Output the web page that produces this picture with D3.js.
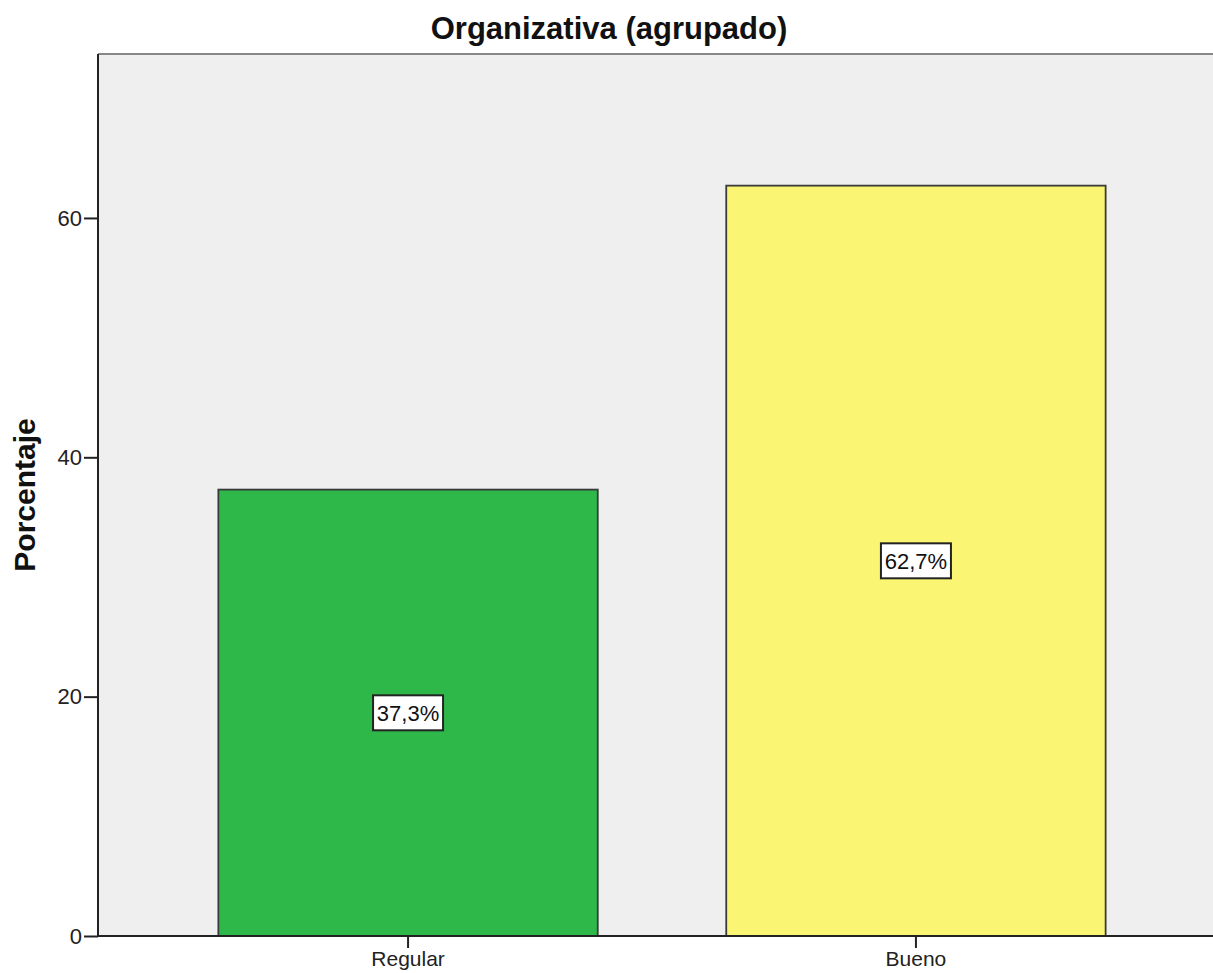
<!DOCTYPE html>
<html><head><meta charset="utf-8">
<script src="https://cdn.jsdelivr.net/npm/d3@7"></script>
<style>body{margin:0;background:#fff}svg{display:block}</style>
</head><body>
<script>
const categories = ["Regular", "Bueno"];
const values = [37.3, 62.7];
const labels = ["37,3%", "62,7%"];
const colors = ["#2fb84a", "#faf673"];
const yTicks = [0, 20, 40, 60];

(function () {
const W = 1213, H = 973;
const mLeft = 98, mRight = 1226, mTop = 54, mBottom = 936;
const svg = d3.select("body").append("svg").attr("width", W).attr("height", H);

const x = d3.scaleBand().domain(categories).range([mLeft, mRight]).paddingInner(0.253).paddingOuter(0.237);
const y = d3.scaleLinear().domain([0, 73.7]).range([mBottom, mTop]);

svg.append("rect").attr("x", mLeft).attr("y", mTop).attr("width", mRight - mLeft).attr("height", mBottom - mTop).attr("fill", "#efefef");
svg.append("line").attr("x1", mLeft).attr("x2", W).attr("y1", mTop).attr("y2", mTop).attr("stroke", "#888").attr("stroke-width", 2);

svg.selectAll("rect.bar").data(values).enter().append("rect").attr("class", "bar")
  .attr("x", (d, i) => x(categories[i])).attr("width", x.bandwidth())
  .attr("y", d => y(d)).attr("height", d => y(0) - y(d))
  .attr("fill", (d, i) => colors[i]).attr("stroke", "#3a3a3a").attr("stroke-width", 1.8);

const font = "Arial, 'Liberation Sans', sans-serif";
const yAxis = svg.append("g").attr("transform", `translate(${mLeft},0)`)
  .call(d3.axisLeft(y).tickValues(yTicks).tickSize(14).tickPadding(2).tickFormat(d3.format("d")));
yAxis.select(".domain").remove();
yAxis.selectAll("line").attr("stroke", "#222").attr("stroke-width", 2);
yAxis.selectAll("text").attr("font-family", font).attr("font-size", 22).attr("fill", "#222");
svg.append("line").attr("x1", mLeft).attr("x2", mLeft).attr("y1", mTop).attr("y2", mBottom + 1).attr("stroke", "#222").attr("stroke-width", 2);

const xAxis = svg.append("g").attr("transform", `translate(0,${mBottom})`)
  .call(d3.axisBottom(x).tickSize(12).tickPadding(3));
xAxis.select(".domain").remove();
xAxis.selectAll("line").attr("stroke", "#222").attr("stroke-width", 2);
xAxis.selectAll("text").attr("font-family", font).attr("font-size", 21).attr("fill", "#222");
svg.append("line").attr("x1", mLeft - 1).attr("x2", W).attr("y1", mBottom).attr("y2", mBottom).attr("stroke", "#222").attr("stroke-width", 2);

const lg = svg.selectAll("g.lab").data(values).enter().append("g").attr("class", "lab")
  .attr("transform", (d, i) => `translate(${x(categories[i]) + x.bandwidth() / 2},${y(d / 2)})`);
lg.append("rect").attr("x", -35).attr("y", -17.5).attr("width", 70).attr("height", 35)
  .attr("fill", "#fff").attr("stroke", "#222").attr("stroke-width", 2);
lg.append("text").text((d, i) => labels[i]).attr("text-anchor", "middle").attr("dy", "0.36em")
  .attr("font-family", font).attr("font-size", 22).attr("fill", "#111");

svg.append("text").attr("x", 609).attr("y", 39).attr("text-anchor", "middle")
  .attr("font-family", font).attr("font-weight", "bold").attr("font-size", 31).attr("fill", "#111")
  .text("Organizativa (agrupado)");
svg.append("text").attr("transform", "translate(35,495) rotate(-90)").attr("text-anchor", "middle")
  .attr("font-family", font).attr("font-weight", "bold").attr("font-size", 30).attr("fill", "#111")
  .text("Porcentaje");
})();
</script>
</body></html>
